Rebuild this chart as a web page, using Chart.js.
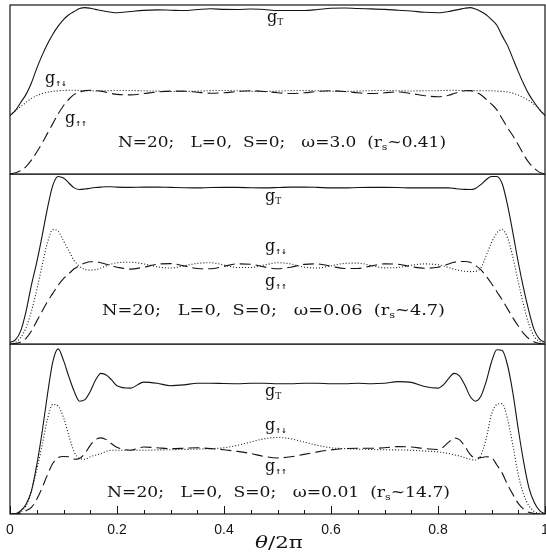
<!DOCTYPE html>
<html>
<head>
<meta charset="utf-8">
<title>g(theta) for N=20</title>
<script src="https://cdn.jsdelivr.net/npm/chart.js@4.4.0/dist/chart.umd.min.js"></script>
<style>
  html, body { margin: 0; padding: 0; background: #fff; }
  #wrap { position: relative; width: 546px; height: 552px; overflow: hidden; background: #fff; }
  canvas { position: absolute; left: 0; }
</style>
</head>
<body>
<div id="wrap">
  <canvas id="topPanel" width="546" height="175" style="top:0"></canvas>
  <canvas id="midPanel" width="546" height="171" style="top:174px"></canvas>
  <canvas id="botPanel" width="546" height="208" style="top:344px"></canvas>
</div>
<script>
// -------------------------------------------------------------------------- Data (theta/2pi grid)

const xs = [
    0, 0.01, 0.02, 0.03, 0.04, 0.05, 0.06, 0.07, 0.08, 0.09, 0.10,
    0.11, 0.12, 0.13, 0.14, 0.15, 0.16, 0.17, 0.18, 0.19, 0.20,
    0.225, 0.25, 0.275, 0.30, 0.325, 0.35, 0.375, 0.40, 0.425, 0.45, 0.475, 0.50,
    0.525, 0.55, 0.575, 0.60, 0.625, 0.65, 0.675, 0.70, 0.725, 0.75, 0.775,
    0.80, 0.81, 0.82, 0.83, 0.84, 0.85, 0.86, 0.87, 0.88, 0.89, 0.90,
    0.91, 0.92, 0.93, 0.94, 0.95, 0.96, 0.97, 0.98, 0.99, 1.00
]

// omega = 3.0
const topT = [
    0.36, 0.39, 0.44, 0.49, 0.56, 0.65, 0.73, 0.80, 0.86, 0.91, 0.95,
    0.98, 1.0, 1.018, 1.024, 1.02, 1.013, 1.006, 1.0, 0.995, 0.992,
    1.0, 1.007, 1.01, 1.008, 1.006, 1.012, 1.017, 1.013, 1.012, 1.015, 1.012, 1.006,
    1.006, 1.006, 1.012, 1.02, 1.022, 1.018, 1.016, 1.013, 1.008, 1.003, 0.995,
    0.992, 0.995, 1.0, 1.007, 1.013, 1.02, 1.024, 1.015, 1.0, 0.98, 0.95,
    0.915, 0.85, 0.79, 0.71, 0.63, 0.555, 0.49, 0.44, 0.395, 0.36
]
const topUD = [
    0.36, 0.39, 0.415, 0.44, 0.465, 0.482, 0.495, 0.503, 0.509, 0.512, 0.514,
    0.515, 0.515, 0.514, 0.513, 0.512, 0.511, 0.511, 0.512, 0.513, 0.514,
    0.514, 0.512, 0.51, 0.508, 0.508, 0.51, 0.513, 0.514, 0.512, 0.509, 0.508, 0.51,
    0.513, 0.514, 0.512, 0.509, 0.508, 0.51, 0.513, 0.514, 0.512, 0.511, 0.512,
    0.513, 0.514, 0.515, 0.515, 0.514, 0.513, 0.513, 0.513, 0.513, 0.512, 0.512,
    0.51, 0.508, 0.505, 0.497, 0.486, 0.47, 0.452, 0.428, 0.398, 0.36
]
const topUU = [
    0, 0.008, 0.02, 0.045, 0.085, 0.135, 0.19, 0.25, 0.31, 0.37, 0.42,
    0.46, 0.49, 0.505, 0.513, 0.515, 0.513, 0.51, 0.503, 0.495, 0.49,
    0.487, 0.495, 0.505, 0.51, 0.51, 0.503, 0.497, 0.5, 0.508, 0.512, 0.508, 0.5,
    0.495, 0.5, 0.508, 0.512, 0.508, 0.5, 0.495, 0.5, 0.505, 0.495, 0.482,
    0.475, 0.478, 0.485, 0.495, 0.505, 0.512, 0.513, 0.505, 0.488, 0.46, 0.43,
    0.395, 0.34, 0.285, 0.235, 0.18, 0.12, 0.07, 0.035, 0.01, 0
]

// omega = 0.06
const midT = [
    0.01, 0.025, 0.08, 0.2, 0.36, 0.5, 0.66, 0.83, 0.97, 1.025, 1.015,
    0.985, 0.955, 0.945, 0.948, 0.953, 0.957, 0.96, 0.962, 0.962, 0.96,
    0.958, 0.96, 0.96, 0.958, 0.956, 0.955, 0.957, 0.958, 0.958, 0.956, 0.955, 0.957,
    0.96, 0.96, 0.958, 0.955, 0.955, 0.957, 0.958, 0.958, 0.957, 0.955, 0.955,
    0.955, 0.955, 0.955, 0.952, 0.948, 0.946, 0.945, 0.952, 0.975, 1.005, 1.025,
    1.025, 0.98, 0.85, 0.68, 0.5, 0.34, 0.2, 0.085, 0.03, 0.01
]
const midUD = [
    0, 0.01, 0.04, 0.1, 0.2, 0.33, 0.48, 0.62, 0.70, 0.69, 0.63,
    0.57, 0.51, 0.475, 0.457, 0.452, 0.455, 0.465, 0.478, 0.49, 0.497,
    0.5, 0.49, 0.472, 0.465, 0.478, 0.493, 0.497, 0.483, 0.468, 0.468, 0.483, 0.497,
    0.49, 0.47, 0.465, 0.478, 0.493, 0.495, 0.48, 0.466, 0.468, 0.482, 0.49,
    0.485, 0.478, 0.468, 0.458, 0.45, 0.445, 0.443, 0.445, 0.465, 0.54, 0.62,
    0.68, 0.70, 0.65, 0.53, 0.38, 0.24, 0.12, 0.045, 0.015, 0
]
const midUU = [
    0, 0.003, 0.012, 0.035, 0.08, 0.14, 0.2, 0.26, 0.31, 0.36, 0.40,
    0.43, 0.46, 0.48, 0.495, 0.503, 0.503, 0.497, 0.488, 0.478, 0.47,
    0.458, 0.47, 0.488, 0.492, 0.478, 0.462, 0.46, 0.475, 0.49, 0.488, 0.472, 0.46,
    0.47, 0.487, 0.49, 0.476, 0.462, 0.462, 0.478, 0.49, 0.488, 0.473, 0.463,
    0.47, 0.478, 0.49, 0.5, 0.505, 0.505, 0.5, 0.48, 0.455, 0.415, 0.37,
    0.32, 0.27, 0.215, 0.16, 0.11, 0.065, 0.032, 0.012, 0.003, 0
]

// omega = 0.01
const botT = [
    0, 0.002, 0.02, 0.06, 0.14, 0.30, 0.50, 0.73, 0.93, 1.01, 0.94,
    0.84, 0.75, 0.69, 0.70, 0.75, 0.82, 0.86, 0.85, 0.82, 0.785,
    0.77, 0.807, 0.80, 0.785, 0.79, 0.80, 0.80, 0.798, 0.797, 0.80, 0.80, 0.797,
    0.797, 0.80, 0.80, 0.797, 0.797, 0.80, 0.797, 0.80, 0.81, 0.805, 0.78,
    0.77, 0.79, 0.83, 0.86, 0.845, 0.79, 0.72, 0.69, 0.72, 0.81, 0.93,
    1.005, 1.0, 0.91, 0.74, 0.52, 0.32, 0.16, 0.07, 0.02, 0
]
const botUD = [
    0, 0.002, 0.012, 0.05, 0.14, 0.27, 0.42, 0.58, 0.67, 0.66, 0.59,
    0.48, 0.38, 0.34, 0.335, 0.35, 0.36, 0.37, 0.383, 0.39, 0.39,
    0.39, 0.39, 0.392, 0.393, 0.395, 0.397, 0.40, 0.405, 0.42, 0.44, 0.46, 0.468,
    0.46, 0.44, 0.42, 0.405, 0.40, 0.397, 0.395, 0.393, 0.392, 0.39, 0.385,
    0.38, 0.375, 0.37, 0.362, 0.355, 0.345, 0.335, 0.33, 0.36, 0.46, 0.61,
    0.67, 0.675, 0.58, 0.42, 0.24, 0.12, 0.05, 0.015, 0.004, 0
]
const botUU = [
    0, 0.002, 0.006, 0.02, 0.04, 0.09, 0.16, 0.24, 0.31, 0.345, 0.352,
    0.35, 0.335, 0.34, 0.37, 0.42, 0.455, 0.466, 0.455, 0.43, 0.408,
    0.39, 0.41, 0.405, 0.40, 0.402, 0.405, 0.40, 0.393, 0.383, 0.37, 0.352, 0.343,
    0.35, 0.365, 0.38, 0.392, 0.40, 0.402, 0.402, 0.405, 0.412, 0.41, 0.40,
    0.395, 0.41, 0.44, 0.465, 0.455, 0.415, 0.365, 0.343, 0.345, 0.35, 0.345,
    0.30, 0.25, 0.18, 0.12, 0.065, 0.03, 0.01, 0.003, 0.001, 0
]

const xTicks = [0, 0.2, 0.4, 0.6, 0.8, 1]

// -------------------------------------------------------------------------- Styles

const ink = '#141414'
const serif = 'DejaVu Serif'
const gFont = '16px ' + serif
const subFont = '9px ' + serif
const arrowFont = 'bold 7px DejaVu Sans'
const textFont = '14px ' + serif

function series(ys) {
    return xs.map((x, i) => ({ x: x, y: ys[i] }))
}

function lineSet(ys, dash) {
    return {
        data: series(ys),
        borderColor: ink,
        borderWidth: 1.1,
        borderDash: dash,
        pointRadius: 0,
        fill: false,
        cubicInterpolationMode: 'monotone'
    }
}

// text made of parts (normal + subscript), optionally stretched to a width
function drawParts(ctx, parts, x, y, width) {
    let w = 0
    parts.forEach(p => { ctx.font = p.font; w += ctx.measureText(p.text).width })
    const sx = width ? width / w : 1
    ctx.save()
    ctx.translate(x, y)
    ctx.scale(sx, 1)
    ctx.fillStyle = ink
    ctx.textBaseline = 'alphabetic'
    let cx = 0
    parts.forEach(p => {
        ctx.font = p.font
        ctx.fillText(p.text, cx, p.dy || 0)
        cx += ctx.measureText(p.text).width
    })
    ctx.restore()
}

function gLabel(sub, x, y) {
    const isArrow = sub !== 'T'
    return {
        x: x, y: y,
        parts: [
            { text: 'g', font: gFont },
            { text: sub, font: isArrow ? arrowFont : subFont, dy: 3 }
        ]
    }
}

function infoLabel(omega, rs, x, y, width) {
    return {
        x: x, y: y, width: width,
        parts: [
            { text: 'N=20;   L=0,  S=0;   \u03c9=' + omega + '  (r', font: textFont },
            { text: 's', font: subFont, dy: 3 },
            { text: '~' + rs + ')', font: textFont }
        ]
    }
}

// frame, labels and inward ticks
const decor = {
    id: 'decor',
    afterDatasetsDraw(chart, args, opts) {
        const { ctx, chartArea: a } = chart
        ctx.save()
        ctx.strokeStyle = ink
        ctx.lineWidth = 1.2
        ctx.strokeRect(a.left, a.top, a.right - a.left, a.bottom - a.top)

        if (opts.ticks) {
            const sx = chart.scales.x
            ctx.lineWidth = 1
            ctx.beginPath()
            for (let i = 0; i <= 20; i++) {
                const px = Math.round(sx.getPixelForValue(i / 20)) + 0.5
                const len = i % 4 === 0 ? 8 : 4
                ctx.moveTo(px, a.bottom)
                ctx.lineTo(px, a.bottom - len)
            }
            ctx.stroke()
        }
        ctx.restore()

        ;(opts.labels || []).forEach(l => drawParts(ctx, l.parts, l.x, l.y, l.width))
    }
}

function makePanel(id, sets, labels, withAxis, pad) {
    const xAxis = {
        type: 'linear',
        min: 0,
        max: 1,
        display: withAxis,
        border: { display: false },
        grid: { display: false, drawTicks: false },
        afterBuildTicks: s => { s.ticks = xTicks.map(v => ({ value: v })) },
        ticks: {
            padding: 8,
            color: ink,
            maxRotation: 0,
            autoSkip: false,
            font: { family: 'Liberation Sans', size: 14 },
            callback: v => String(Number(v.toFixed(1)))
        }
    }
    if (withAxis) {
        xAxis.afterFit = s => {
            s.height = 38
            s.paddingLeft = 0
            s.paddingRight = 0
        }
    }
    return new Chart(document.getElementById(id), {
        type: 'line',
        data: { datasets: sets },
        plugins: [decor],
        options: {
            responsive: false,
            animation: false,
            events: [],
            layout: { padding: pad },
            scales: {
                x: xAxis,
                y: { type: 'linear', min: 0, max: 1.04, display: false }
            },
            plugins: {
                legend: { display: false },
                tooltip: { enabled: false },
                decor: { labels: labels, ticks: withAxis }
            }
        }
    })
}

const dotted = [1, 2]
const dashed = [11, 5]

// -------------------------------------------------------------------------- Render panels

makePanel('topPanel',
    [lineSet(topT, []), lineSet(topUD, dotted), lineSet(topUU, dashed)],
    [
        gLabel('T', 267, 22),
        gLabel('\u2191\u2193', 45, 83),
        gLabel('\u2191\u2191', 65, 123),
        infoLabel('3.0', '0.41', 118, 147, 328)
    ],
    false, { left: 10, right: 1, top: 5, bottom: 1 })

makePanel('midPanel',
    [lineSet(midT, []), lineSet(midUD, dotted), lineSet(midUU, dashed)],
    [
        gLabel('T', 265, 27),
        gLabel('\u2191\u2193', 265, 77),
        gLabel('\u2191\u2191', 265, 112),
        infoLabel('0.06', '4.7', 102, 141, 343)
    ],
    false, { left: 10, right: 1, top: 0, bottom: 1 })

const botLabels = [
    gLabel('T', 265, 52),
    gLabel('\u2191\u2193', 265, 86),
    gLabel('\u2191\u2191', 265, 127),
    infoLabel('0.01', '14.7', 107, 153, 343),
    {
        x: 255, y: 204, width: 48,
        parts: [
            { text: '\u03b8', font: 'italic 16px ' + serif },
            { text: '/2\u03c0', font: '16px ' + serif }
        ]
    }
]

makePanel('botPanel',
    [lineSet(botT, []), lineSet(botUD, dotted), lineSet(botUU, dashed)],
    botLabels,
    true, { left: 10, right: 1, top: 0, bottom: 0 })
</script>
</body>
</html>
